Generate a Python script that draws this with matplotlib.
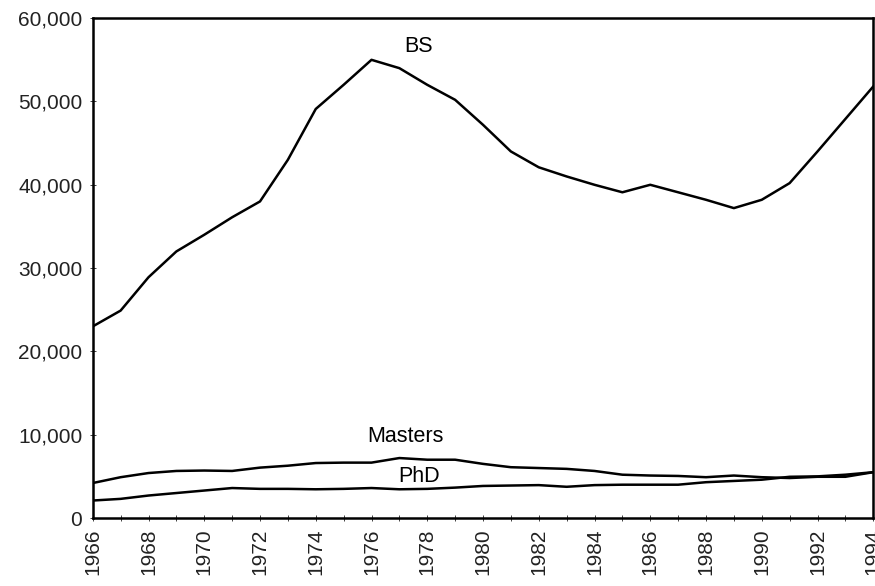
import matplotlib.pyplot as plt
import matplotlib.ticker as mticker
import numpy as np

plt.rcParams['font.family'] = ['Liberation Sans', 'DejaVu Sans']

years = np.arange(1966, 1995)
bs = [23000, 24900, 28900, 32000, 34000, 36100, 38000, 43000, 49100, 52000,
      55000, 54000, 52000, 50200, 47200, 44000, 42100, 41000, 40000, 39100,
      40000, 39100, 38200, 37200, 38200, 40200, 44000, 47900, 51800]
masters = [4200, 4900, 5400, 5650, 5700, 5650, 6050, 6280, 6600, 6650,
           6650, 7200, 7000, 7000, 6500, 6100, 6000, 5900, 5650, 5200,
           5100, 5050, 4900, 5100, 4900, 4800, 4950, 4950, 5500]
phd = [2100, 2300, 2700, 3000, 3300, 3600, 3500, 3500, 3450, 3500,
       3600, 3450, 3500, 3650, 3850, 3900, 3950, 3750, 3950, 4000,
       4000, 4000, 4300, 4450, 4600, 4950, 5000, 5200, 5500]

fig = plt.figure(figsize=(8.75, 5.86), dpi=100)
ax = fig.add_axes([0.106, 0.116, 0.892, 0.853])

# three series, all plain black lines
for s in (bs, masters, phd):
    ax.plot(years, s, color='black', lw=1.8)

ax.text(1977.7, 56600, 'BS', fontsize=15.5, ha='center', va='center')
ax.text(1977.2, 9800, 'Masters', fontsize=15.5, ha='center', va='center')
ax.text(1977.7, 5000, 'PhD', fontsize=15.5, ha='center', va='center')

ax.set_xlim(1966, 1994)
ax.set_ylim(0, 60000)
ax.set_xticks(years[::2])
ax.set_xticks(years, minor=True)
ax.set_xticklabels([str(y) for y in years[::2]], rotation=90)
ax.set_yticks(np.arange(0, 60001, 10000))
ax.yaxis.set_major_formatter(mticker.FuncFormatter(lambda v, p: f'{int(v):,}'))
ax.tick_params(axis='both', which='both', direction='inout', length=5,
               width=0.6, labelsize=15, pad=5, colors='#222222')
for sp in ax.spines.values():
    sp.set_linewidth(1.8)

fig.savefig('out.png', dpi=100)
